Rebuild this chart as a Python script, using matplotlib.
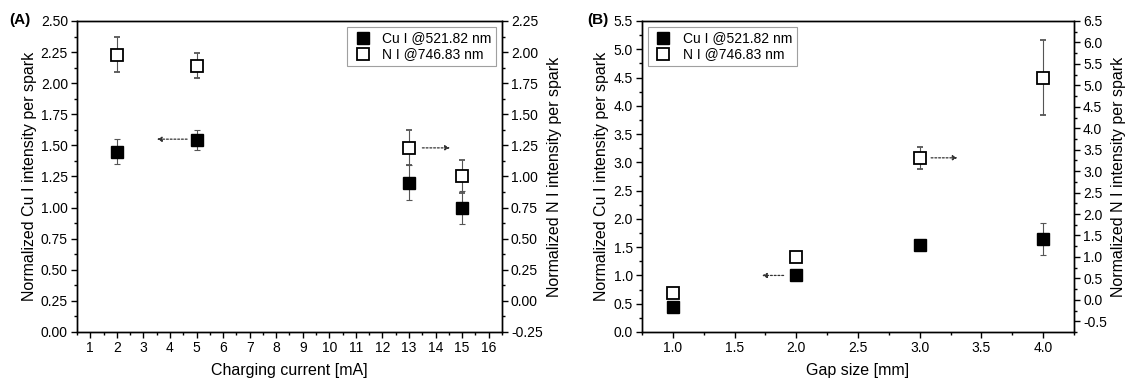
import matplotlib.pyplot as plt
from matplotlib.lines import Line2D
from matplotlib.ticker import MultipleLocator

plt.rcParams['font.family'] = ['Liberation Sans', 'DejaVu Sans']
plt.rcParams['axes.unicode_minus'] = False

# Panel A: charging current
current_ma = [2, 5, 13, 15]
cu_a = [1.45, 1.54, 1.20, 1.00]
cu_a_err = [0.10, 0.08, 0.14, 0.13]
n_a = [1.98, 1.89, 1.23, 1.00]
n_a_err = [0.14, 0.10, 0.14, 0.13]

# Panel B: gap size
gap_mm = [1.0, 2.0, 3.0, 4.0]
cu_b = [0.45, 1.00, 1.53, 1.65]
cu_b_err = [0.03, 0.04, 0.08, 0.28]
n_b = [0.17, 1.00, 3.31, 5.18]
n_b_err = [0.08, 0.0, 0.25, 0.88]

cu_label = 'Cu I @521.82 nm'
n_label = 'N I @746.83 nm'

fs_tick = 10
fs_label = 11.5
fs_leg = 10


def style_axis(ax):
    ax.tick_params(direction='out', length=4, width=1, labelsize=fs_tick, pad=2.5)
    ax.tick_params(which='minor', direction='out', length=2.5, width=1)
    for s in ax.spines.values():
        s.set_linewidth(1)


def draw(ax, x, cu, cu_err, n, n_err):
    ax2 = ax.twinx()
    ax.errorbar(x, cu, yerr=cu_err, fmt='s', ms=8, mfc='black', mec='black',
                ecolor='#555555', elinewidth=0.8, capsize=2.5, capthick=0.8)
    ax2.errorbar(x, n, yerr=n_err, fmt='s', ms=8, mfc='white', mec='black', mew=1.3,
                 ecolor='#555555', elinewidth=0.8, capsize=2.5, capthick=0.8)
    return ax2


# legend shows plain markers only
leg_handles = [
    Line2D([], [], ls='none', marker='s', ms=8, mfc='black', mec='black'),
    Line2D([], [], ls='none', marker='s', ms=8, mfc='white', mec='black', mew=1.3),
]

fig = plt.figure(figsize=(11.29, 3.83), dpi=100)
fig.patch.set_facecolor('white')

arrow = dict(arrowstyle='-|>', linestyle=(0, (1.5, 1.5)), color='#333333', lw=0.9,
             mutation_scale=7)

# ---------- (A) ----------
axA = fig.add_axes([0.0682, 0.1332, 0.3764, 0.812])
axA2 = draw(axA, current_ma, cu_a, cu_a_err, n_a, n_a_err)
axA.set_xlim(0.5, 16.5)
axA.set_ylim(0, 2.5)
axA2.set_ylim(-0.25, 2.25)
axA.xaxis.set_major_locator(MultipleLocator(1))
axA.xaxis.set_minor_locator(MultipleLocator(0.5))
axA.yaxis.set_major_locator(MultipleLocator(0.25))
axA.yaxis.set_minor_locator(MultipleLocator(0.125))
axA2.yaxis.set_major_locator(MultipleLocator(0.25))
axA2.yaxis.set_minor_locator(MultipleLocator(0.125))
axA.yaxis.set_major_formatter('{x:.2f}')
axA2.yaxis.set_major_formatter('{x:.2f}')
style_axis(axA)
style_axis(axA2)
axA.set_xlabel('Charging current [mA]', fontsize=fs_label, labelpad=6)
axA.set_ylabel('Normalized Cu I intensity per spark', fontsize=fs_label, labelpad=3)
axA2.set_ylabel('Normalized N I intensity per spark', fontsize=fs_label, labelpad=3)
axA.annotate('', xy=(3.4, 1.55), xytext=(4.75, 1.55), arrowprops=arrow)
axA.annotate('', xy=(14.65, 1.48), xytext=(13.4, 1.48), arrowprops=arrow)
legA = axA2.legend(leg_handles, [cu_label, n_label], loc='upper right', fontsize=fs_leg,
                   frameon=True, fancybox=False, edgecolor='#888888',
                   handletextpad=0.6, borderpad=0.35, labelspacing=0.15,
                   borderaxespad=0.4, handlelength=1.6)
legA.get_frame().set_linewidth(0.8)
fig.text(0.008, 0.947, '(A)', fontsize=11, fontweight='bold', va='center')

# ---------- (B) ----------
axB = fig.add_axes([0.5686, 0.1332, 0.3827, 0.812])
axB2 = draw(axB, gap_mm, cu_b, cu_b_err, n_b, n_b_err)
axB.set_xlim(0.75, 4.25)
axB.set_ylim(0, 5.5)
axB2.set_ylim(-0.75, 6.5)
axB.xaxis.set_major_locator(MultipleLocator(0.5))
axB.xaxis.set_minor_locator(MultipleLocator(0.25))
axB.yaxis.set_major_locator(MultipleLocator(0.5))
axB.yaxis.set_minor_locator(MultipleLocator(0.25))
axB2.yaxis.set_major_locator(MultipleLocator(0.5))
axB2.yaxis.set_minor_locator(MultipleLocator(0.25))
axB.xaxis.set_major_formatter('{x:.1f}')
axB.yaxis.set_major_formatter('{x:.1f}')
axB2.yaxis.set_major_formatter('{x:.1f}')
style_axis(axB)
style_axis(axB2)
axB.set_xlabel('Gap size [mm]', fontsize=fs_label, labelpad=6)
axB.set_ylabel('Normalized Cu I intensity per spark', fontsize=fs_label, labelpad=3)
axB2.set_ylabel('Normalized N I intensity per spark', fontsize=fs_label, labelpad=3)
axB.annotate('', xy=(1.7, 1.0), xytext=(1.92, 1.0), arrowprops=arrow)
axB.annotate('', xy=(3.33, 3.08), xytext=(3.07, 3.08), arrowprops=arrow)
legB = axB2.legend(leg_handles, [cu_label, n_label], loc='upper left', fontsize=fs_leg,
                   frameon=True, fancybox=False, edgecolor='#888888',
                   handletextpad=0.6, borderpad=0.35, labelspacing=0.15,
                   borderaxespad=0.4, handlelength=1.6)
legB.get_frame().set_linewidth(0.8)
fig.text(0.52, 0.947, '(B)', fontsize=11, fontweight='bold', va='center')

fig.savefig('out.png', dpi=100)
